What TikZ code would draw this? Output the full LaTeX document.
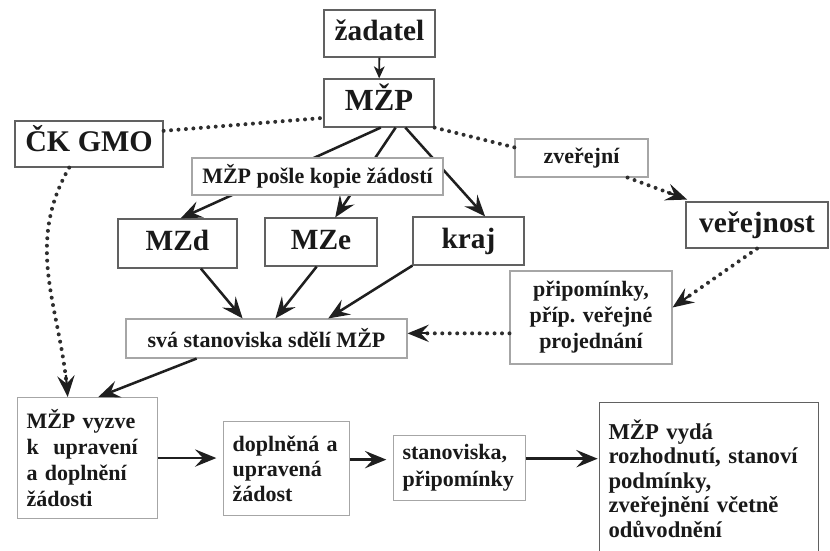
\documentclass[tikz,border=0pt]{standalone}
\usepackage{fontspec}
\setmainfont{Liberation Serif}
\usetikzlibrary{arrows.meta,calc}

\tikzset{every picture/.style={line width=0.75pt}}
\tikzset{
  bigbox/.style={draw=black!62, line width=0.9pt, inner sep=0pt, text=black!90,
    text height=15pt, text depth=4pt, font=\fontsize{22}{26}\selectfont\bfseries},
  midbox/.style={draw=black!35, line width=0.8pt, fill=white, inner sep=0pt, text=black!90,
    font=\fontsize{16.5}{19.5}\selectfont\bfseries},
  textbox/.style={midbox, anchor=north west, align=left, inner xsep=6.75pt, inner ysep=0pt},
  conn/.style={line width=1.9pt, black!88, -{Stealth[length=16pt,width=13pt,inset=6pt]}},
  dotline/.style={line width=3pt, black!82, line cap=round, dash pattern=on 0pt off 5.6pt},
  tiponly/.style={line width=1.6pt, black!88, -{Stealth[length=16pt,width=13pt,inset=6pt]}},
}

\begin{document}
\begin{tikzpicture}[x=0.75pt,y=0.75pt,yscale=-1,xscale=1]
    \path[use as bounding box] (0,0) rectangle (830,550);

    % top
    \node[bigbox, minimum width=83.25pt, minimum height=35.25pt] (zadatel) at (379.5,33.5) {žadatel};
    \node[bigbox, minimum width=82.5pt, minimum height=36pt, font=\fontsize{23}{26}\selectfont\bfseries] (mzp) at (379,103) {MŽP};
    \node[bigbox, minimum width=111pt, minimum height=34.5pt, font=\fontsize{22.5}{26}\selectfont\bfseries] (ckgmo) at (89,144) {ČK GMO};

    % ministries and region
    \node[bigbox, minimum width=89.25pt, minimum height=36.75pt] (mzd) at (177.5,243.5) {MZd};
    \node[bigbox, minimum width=84pt, minimum height=36pt] (mze) at (321,242) {MZe};
    \node[bigbox, minimum width=83.25pt, minimum height=36pt] (kraj) at (468.5,241) {kraj};
    \node[bigbox, minimum width=106.5pt, minimum height=34.5pt] (verejnost) at (757,225) {veřejnost};

    \draw[conn, line width=1.4pt, -{Stealth[length=9pt,width=8pt,inset=2.5pt]}] (zadatel) -- (mzp);
    \draw[conn] (mzp.-86) -- (mzd.83);
    \draw[conn] (mzp.-56) -- (mze.60);
    \draw[conn] (mzp.-43) -- (kraj.56);

    \node[midbox, minimum width=188.25pt, minimum height=27.75pt] (kopie) at (317.5,176.5) {MŽP pošle kopie žádostí};
    \node[midbox, minimum width=99.75pt, minimum height=28.5pt] (zverejni) at (581.5,158) {zveřejní};
    \node[midbox, minimum width=210.75pt, minimum height=29.25pt] (sva) at (266.5,338.5) {svá stanoviska sdělí MŽP};
    \node[midbox, minimum width=121.5pt, minimum height=69.75pt, align=center] (pripominky) at (591,317.5)
        {připomínky,\\příp. veřejné\\projednání};

    % bottom row
    \node[textbox, text width=91.5pt, minimum height=90.75pt] (vyzve) at (17,397)
        {MŽP vyzve\\k\ \ upravení\\a doplnění\\žádosti};
    \node[textbox, text width=81pt, minimum height=70.5pt, font=\fontsize{16.5}{18.8}\selectfont\bfseries] (doplnena) at (223,421)
        {doplněná a\\upravená\\žádost};
    \node[textbox, text width=85.5pt, minimum height=48.75pt, font=\fontsize{16.5}{20.5}\selectfont\bfseries] (stanoviska) at (393,435)
        {stanoviska,\\připomínky};
    \node[textbox, draw=black!62, text width=150.75pt, minimum height=114pt, font=\fontsize{17}{18.4}\selectfont\bfseries] (vyda) at (599,402)
        {MŽP vydá\\rozhodnutí, stanoví\\podmínky,\\zveřejnění včetně\\odůvodnění};

    % dotted links
    \draw[dotline] (ckgmo.10) -- (mzp.195);
    \draw[dotline] (mzp.south east) -- (zverejni.171);

    \coordinate (t1) at ($(verejnost.160)!4pt!(zverejni.-23)$);
    \draw[dotline, shorten >=7pt] (zverejni.-23) -- (t1);
    \draw[tiponly] ($(t1)!16pt!(zverejni.-23)$) -- (t1);

    \draw[dotline, shorten >=7pt] (verejnost.south) -- (pripominky.7);
    \draw[tiponly] ($(pripominky.7)!16pt!(verejnost.south)$) -- (pripominky.7);

    \coordinate (t2) at (pripominky.191 -| sva.east);
    \draw[dotline, shorten >=7pt] (pripominky.191) -- (t2);
    \draw[tiponly] ($(t2)!16pt!(pripominky.191)$) -- (t2);

    \draw[dotline, shorten >=7pt] (ckgmo.-130) to[out=120,in=-95] (vyzve.108);
    \draw[tiponly] ([shift={(-1.8,-22)}]vyzve.108) -- (vyzve.108);

    % solid links
    \draw[conn] (mzd.-47) -- (sva.140);
    \draw[conn] (mze.-100) -- (sva.66);
    \draw[conn] (kraj.south west) -- (sva.18);
    \draw[conn] (sva.-164) -- (vyzve.80);
    \draw[conn, shorten >=5pt] (vyzve.east) -- (vyzve.east -| doplnena.west);
    \draw[conn, shorten >=5pt] (doplnena.8) -- (doplnena.8 -| stanoviska.west);
    \draw[conn, shorten >=1pt] (stanoviska.8) -- (stanoviska.8 -| vyda.west);

\end{tikzpicture}
\end{document}
